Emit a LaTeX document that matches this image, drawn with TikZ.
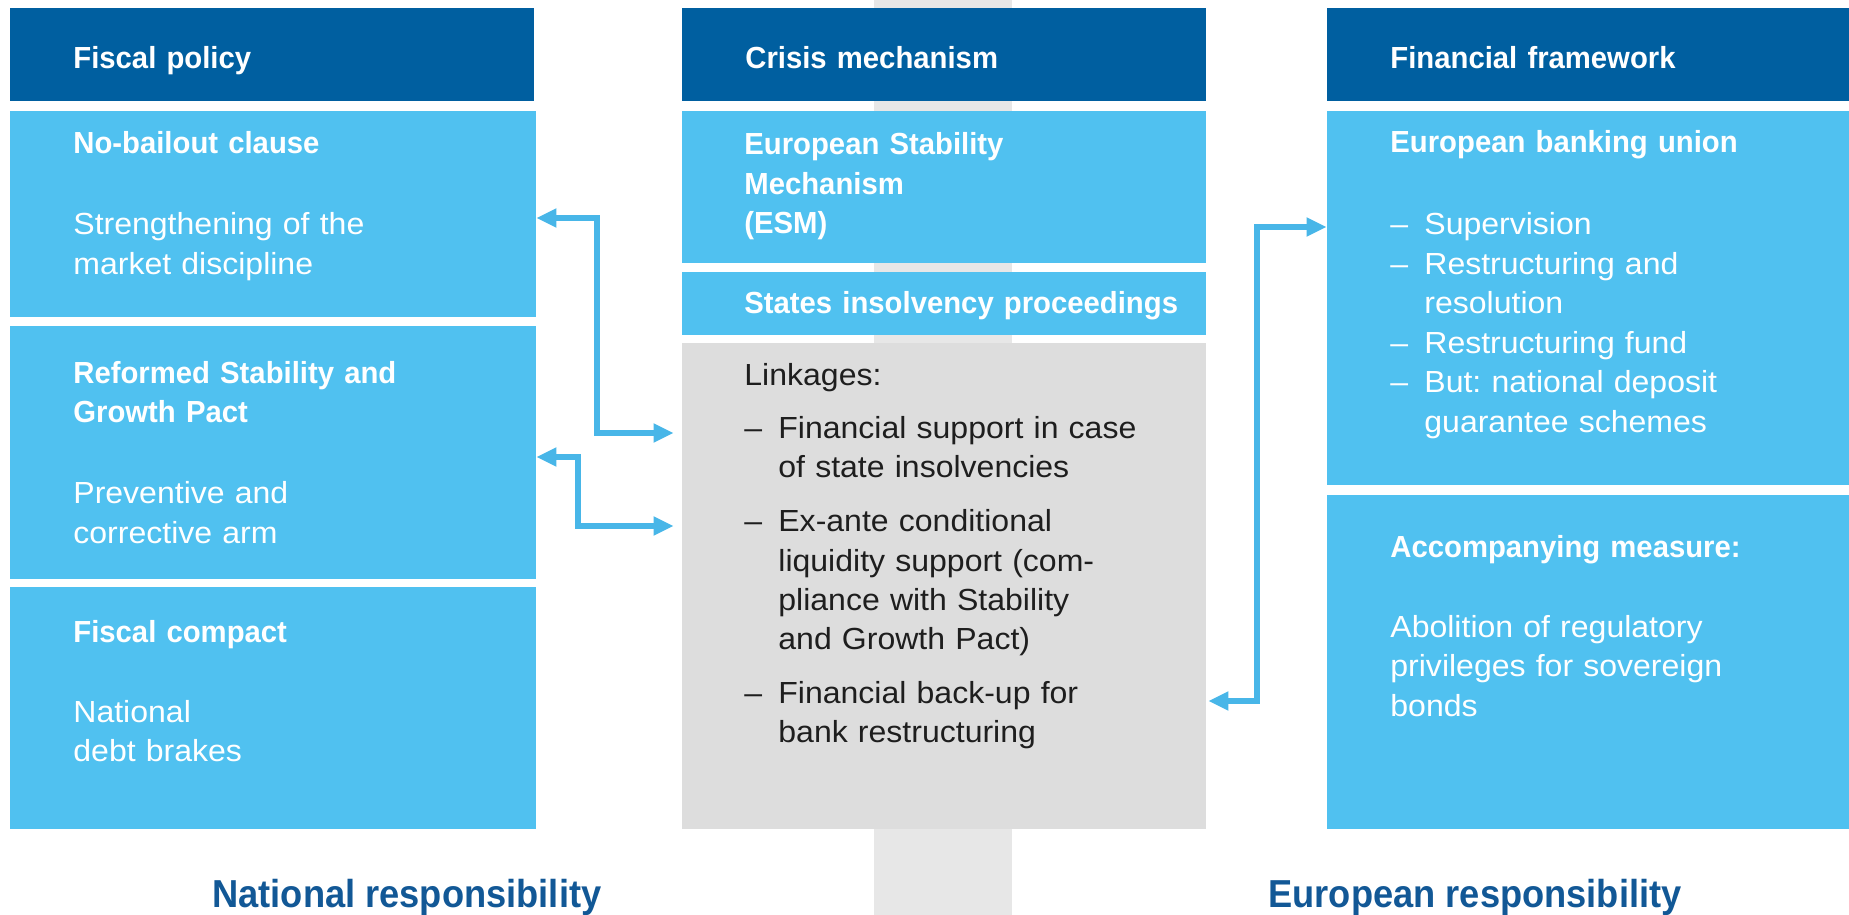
\documentclass[tikz,border=0pt]{standalone}
\usepackage{fontspec}
\setmainfont{Liberation Sans}[FakeStretch=1.05]
\newfontfamily\headfont{Liberation Sans}[FakeStretch=0.96]
\newfontfamily\respfont{Liberation Sans}[FakeStretch=0.93]
\usetikzlibrary{arrows.meta,fit}
\frenchspacing

\definecolor{hdblue}{RGB}{0,95,160}
\definecolor{skyblue}{RGB}{80,193,240}
\definecolor{linkblue}{RGB}{72,182,232}
\definecolor{panelgrey}{RGB}{221,221,221}
\definecolor{bargrey}{RGB}{231,231,231}
\definecolor{respblue}{RGB}{18,88,150}
\definecolor{ink}{RGB}{30,30,30}

\newcommand\hd{\headfont\bfseries}
% dash item, continuation lines hang under the text
\newcommand\itm[1]{\par{\let\\\newline\hangindent=17pt\hangafter=1%
  \noindent\makebox[17pt][l]{--}#1\par}}

\tikzset{
  hdr/.style={fill=hdblue, inner sep=0pt},
  panel/.style={fill=skyblue, inner sep=0pt},
  greypanel/.style={fill=panelgrey, inner sep=0pt},
  body/.style={anchor=base west, inner sep=0pt, text width=230pt, align=left,
    text=white, font=\fontsize{15.25}{19.75}\selectfont},
  head/.style={body, font=\hd\fontsize{15.25}{19.75}\selectfont},
  resp/.style={anchor=base west, inner sep=0pt, text=respblue,
    font=\respfont\bfseries\fontsize{19.5}{24}\selectfont},
  link/.style={linkblue, line width=3pt, >={Triangle[length=10pt,width=9pt]}, <->}
}

\begin{document}
\begin{tikzpicture}[x=0.5pt, y=-0.5pt]
\useasboundingbox (0,0) rectangle (1849,915);
% grey band behind the middle column
\fill[bargrey] (874,0) rectangle (1012,915);

% column heads
\foreach \nm/\x/\txt in {fiscal/10/Fiscal policy, crisis/682/Crisis mechanism, finfw/1327/Financial framework}{
  \node[hdr, fit={(\x,8) (\x+524,101)}] (\nm) {};
  \node[head] (\nm-t) at (\x+63,69) {\txt};
}

% national side
\node[panel, fit={(10,111) (536,317)}] (nobail) {};
\node[panel, fit={(10,326) (536,579)}] (sgp) {};
\node[panel, fit={(10,587) (536,829)}] (compact) {};
\node[body] (nobail-t) at (73,154) {{\hd No-bailout clause}\\[20.75pt]Strengthening of the\\market discipline};
\node[body] (sgp-t) at (73,383) {{\hd Reformed Stability and\\Growth Pact}\\[20.75pt]Preventive and\\corrective arm};
\node[body] (compact-t) at (73,642) {{\hd Fiscal compact}\\[20.25pt]National\\debt brakes};

% crisis mechanism
\node[panel, fit={(682,111) (1206,263)}] (esm) {};
\node[panel, fit={(682,272) (1206,335)}] (insolv) {};
\node[greypanel, fit={(682,343) (1206,829)}] (links) {};
\node[head] (esm-t) at (744,155) {European Stability\\Mechanism\\(ESM)};
\node[head] (insolv-t) at (744,313) {States insolvency proceedings};
\node[body, text=ink] (links-t) at (744,385) {\setlength{\parskip}{7pt}Linkages:%
  \itm{Financial support in case\\of state insolvencies}%
  \itm{Ex-ante conditional\\liquidity support (com-\\pliance with Stability\\and Growth Pact)}%
  \itm{Financial back-up for\\bank restructuring}};

% european side
\node[panel, fit={(1327,111) (1849,485)}] (banking) {};
\node[panel, fit={(1327,495) (1849,829)}] (accomp) {};
\node[body] (banking-t) at (1390,153) {{\hd European banking union}\par\vspace{21.25pt}%
  \itm{Supervision}\itm{Restructuring and\\resolution}\itm{Restructuring fund}%
  \itm{But: national deposit\\guarantee schemes}};
\node[body] (accomp-t) at (1390,557) {{\hd Accompanying measure:}\\[20.25pt]Abolition of regulatory\\privileges for sovereign\\bonds};

\node[resp] (natresp) at (212,907) {National responsibility};
\node[resp] (euresp) at (1268,907) {European responsibility};

% links between the columns
\coordinate (k1) at (597,218);
\coordinate (k2) at (597,433);
\coordinate (k3) at (578,457);
\coordinate (k4) at (578,526);
\coordinate (k5) at (1257,227);
\coordinate (k6) at (1257,701);
\draw[link, shorten >=4pt] (nobail.east |- k1) -- (k1) -- (k2) -- (links.west |- k2);
\draw[link, shorten >=4pt] (sgp.east |- k3) -- (k3) -- (k4) -- (links.west |- k4);
\draw[link, shorten <=1pt] (links.east |- k6) -- (k6) -- (k5) -- (banking.west |- k5);
\end{tikzpicture}
\end{document}
